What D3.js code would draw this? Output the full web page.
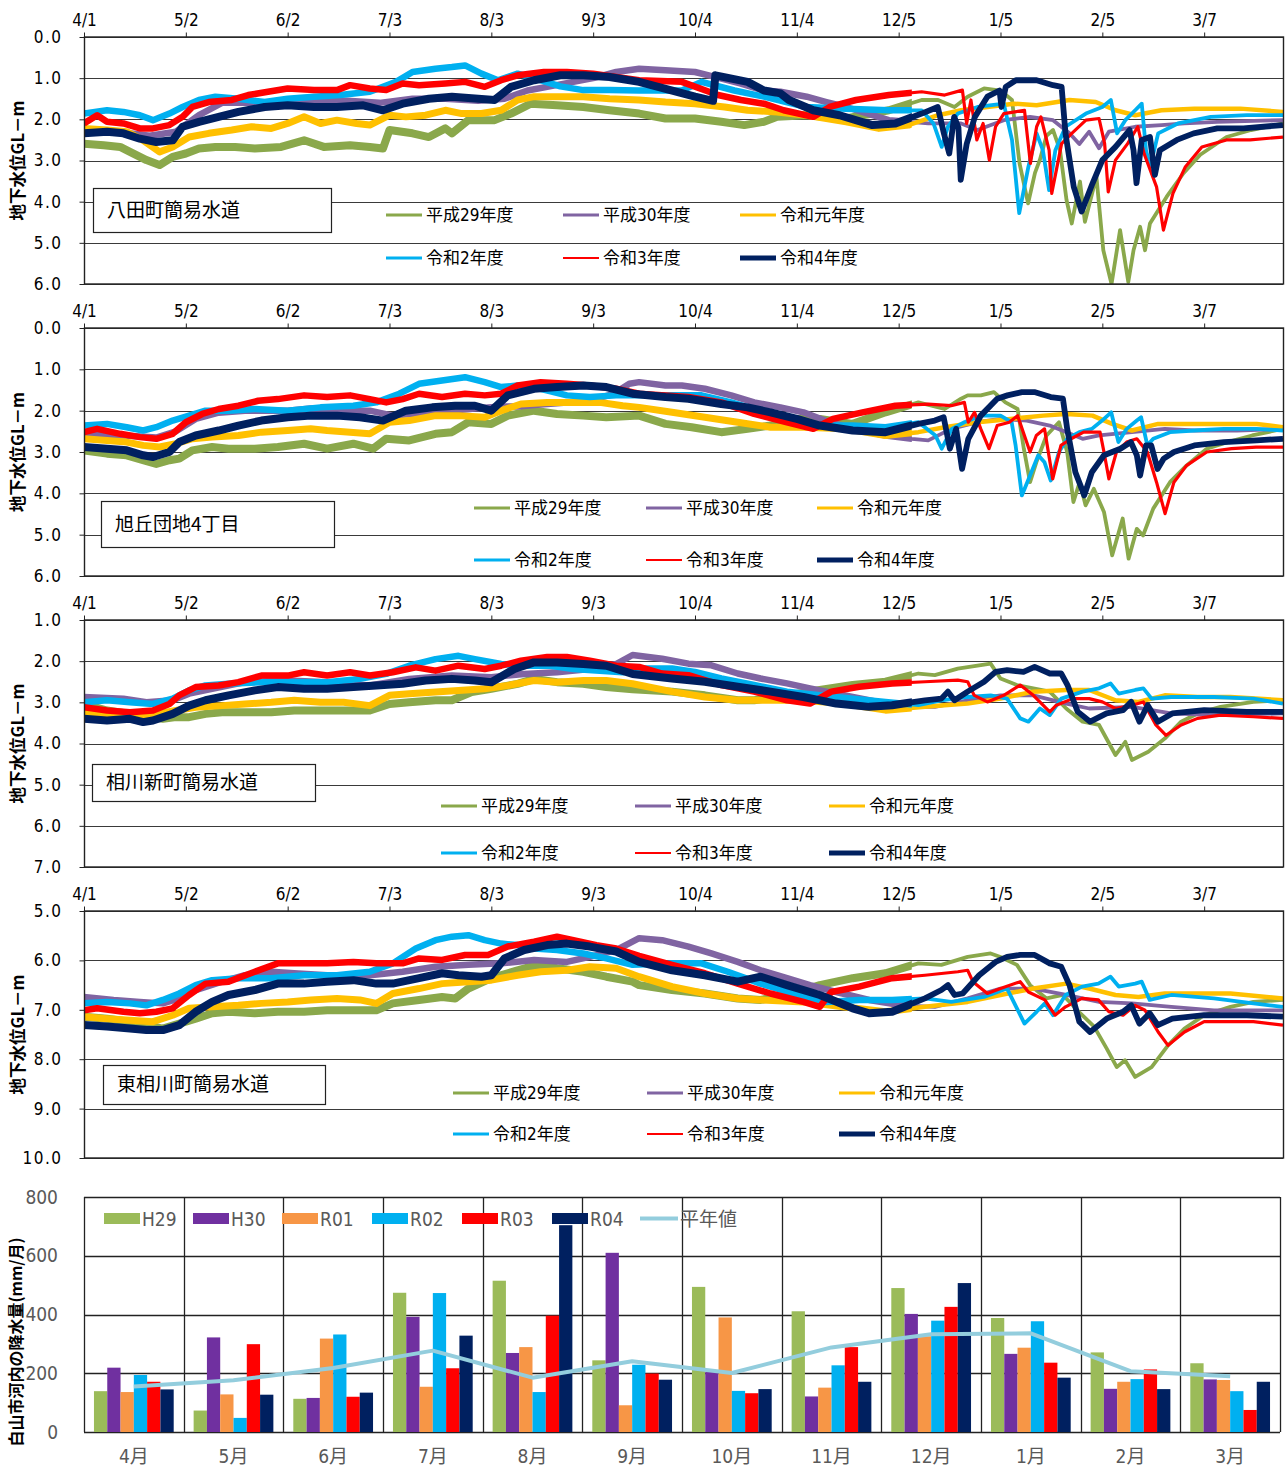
<!DOCTYPE html>
<html>
<head>
<meta charset="utf-8">
<script src="https://cdn.jsdelivr.net/npm/d3@7"></script>
<style>
  body { margin: 0; background: #fff; }
  svg text { font-family: "Liberation Sans Narrow", "DejaVu Sans Condensed", "Noto Sans CJK JP", sans-serif; }
</style>
</head>
<body>
<svg id="chart" width="1285" height="1469"></svg>
<script>
// ---------- groundwater level data: [day since 4/1, depth GL-m] ----------
const dayTicks = [0, 31, 62, 93, 124, 155, 186, 217, 248, 279, 310, 341];
const dayTickLabels = ["4/1", "5/2", "6/2", "7/3", "8/3", "9/3", "10/4", "11/4", "12/5", "1/5", "2/5", "3/7"];
const yearNames = ["平成29年度", "平成30年度", "令和元年度", "令和2年度", "令和3年度", "令和4年度"];

// 八田町簡易水道
const hatta_h29 = [[0,2.59],[6,2.63],[11,2.67],[14,2.79],[19,2.99],[23,3.11],[27,2.91],[31,2.83],[35,2.71],[40,2.67],[46,2.67],[52,2.71],[60,2.67],[67,2.51],[73,2.67],[81,2.63],[87,2.67],[91,2.71],[93,2.26],[100,2.34],[105,2.43],[110,2.22],[112,2.34],[117,2.02],[125,2.02],[130,1.86],[136,1.62],[144,1.66],[152,1.7],[160,1.78],[169,1.86],[177,1.98],[186,1.98],[194,2.06],[201,2.14],[207,2.06],[211,1.94],[220,1.9],[232,1.98],[245,1.78],[255,1.53],[260,1.53],[265,1.7],[269,1.45],[274,1.25],[279,1.3],[282.5,1.53],[284.8,3.07],[287.4,4.04],[289.5,3.3],[291,2.98],[293,2.4],[295,2.26],[297.1,2.74],[299.1,3.96],[300.7,4.53],[303.2,3.51],[304.7,4.49],[308.2,3.39],[310.3,5.18],[312.8,6.0],[315.4,4.69],[317.9,5.95],[319.5,5.18],[321.5,4.61],[323,5.18],[324.5,4.53],[329.6,3.88],[334.7,3.31],[339.8,2.86],[347.8,2.43],[355.3,2.26],[365,2.1]];
const hatta_h30 = [[0,2.25],[10,2.3],[20,2.4],[28,2.3],[35,1.9],[42,1.6],[50,1.6],[60,1.6],[70,1.55],[80,1.55],[90,1.6],[100,1.5],[110,1.5],[120,1.55],[128,1.5],[135,1.3],[145,1.15],[155,1.0],[162,0.85],[169,0.77],[177,0.81],[186,0.85],[192,0.97],[200,1.13],[207,1.3],[212,1.33],[220,1.45],[226,1.58],[232,1.7],[245,2.02],[257,2.1],[267,2.1],[272,2.26],[280,2.02],[288,1.94],[295,2.02],[300,2.34],[303,2.6],[306,2.3],[309,2.7],[312,2.3],[320,2.18],[328,2.14],[335,2.1],[345,2.06],[365,2.02]];
const hatta_r01 = [[0,2.22],[7,2.26],[13,2.3],[18,2.51],[23,2.79],[27,2.67],[32,2.43],[38,2.34],[45,2.26],[51,2.18],[57,2.22],[62,2.1],[67,1.94],[72,2.1],[77,2.02],[83,2.1],[87,2.14],[93,1.9],[98,1.94],[104,1.9],[110,1.78],[115,1.86],[121,1.86],[127,1.78],[132,1.53],[137,1.45],[145,1.45],[152,1.45],[160,1.5],[169,1.53],[177,1.58],[186,1.62],[195,1.7],[202,1.78],[211,1.82],[220,1.9],[232,2.06],[242,2.22],[251,2.14],[260,1.9],[267,1.78],[275,1.7],[283,1.62],[290,1.66],[300,1.53],[308,1.58],[314,1.78],[320,1.9],[328,1.78],[338,1.74],[352,1.74],[365,1.82]];
const hatta_r02 = [[0,1.86],[7,1.78],[12,1.82],[17,1.9],[21,2.02],[26,1.86],[30,1.7],[35,1.53],[40,1.45],[47,1.5],[55,1.58],[62,1.5],[70,1.45],[78,1.41],[87,1.33],[95,1.09],[100,0.85],[107,0.77],[112,0.73],[116,0.69],[121,0.89],[126,1.05],[132,0.89],[137,1.0],[145,1.2],[152,1.29],[160,1.29],[169,1.3],[182,1.3],[188,1.09],[198,1.3],[207,1.45],[220,1.7],[232,1.74],[245,1.78],[255,1.78],[258.6,2.1],[261.1,2.67],[263,2.18],[266,1.86],[272,1.7],[280,1.62],[282.5,2.5],[284.7,4.28],[287.5,3.15],[290,2.34],[291.9,2.75],[293.8,3.72],[295.7,2.75],[298.8,2.18],[305,1.86],[310,1.7],[312.6,1.53],[314.5,2.34],[317,2.02],[320,1.78],[322,1.62],[323.3,2.75],[324.6,3.15],[327,2.34],[333,2.1],[343,1.94],[354,1.9],[365,1.9]];
const hatta_r03 = [[0,2.1],[4,1.9],[7,2.06],[12,2.1],[17,2.22],[21,2.22],[26,2.14],[30,1.94],[33,1.7],[38,1.58],[45,1.53],[50,1.41],[56,1.33],[62,1.25],[70,1.29],[77,1.29],[81,1.17],[87,1.25],[92,1.29],[97,1.13],[102,1.17],[110,1.13],[116,1.09],[122,1.21],[127,1.05],[132,0.93],[140,0.85],[147,0.85],[155,0.89],[162,0.97],[169,1.05],[182,1.09],[193,1.41],[200,1.53],[207,1.62],[213,1.78],[222,1.94],[227,1.7],[235,1.53],[245,1.41],[255,1.33],[262,1.41],[267.4,1.29],[268.7,2.1],[270,1.53],[271.8,2.5],[273.7,2.1],[275.6,2.99],[277.5,2.18],[280,1.86],[286.3,1.78],[288.1,3.07],[290,2.18],[291.3,1.94],[293.8,2.75],[294.6,3.8],[297.6,2.59],[300.7,2.34],[305,2.02],[309,1.98],[310.7,2.59],[311.8,3.76],[314,2.99],[317.7,2.59],[320.8,2.18],[322.7,2.83],[326.5,3.64],[328.6,4.69],[331.5,3.8],[335.3,3.15],[340.3,2.67],[347.8,2.5],[355,2.5],[365,2.43]];
const hatta_r04 = [[0,2.34],[7,2.3],[12,2.34],[17,2.47],[22,2.55],[27,2.51],[30,2.18],[35,2.06],[41,1.94],[47,1.82],[55,1.7],[62,1.66],[70,1.7],[77,1.7],[85,1.66],[91,1.78],[97,1.62],[105,1.5],[112,1.45],[120,1.5],[125,1.53],[130,1.21],[137,1.05],[145,0.93],[152,0.93],[160,0.97],[169,1.09],[186,1.45],[191.5,1.55],[192.2,0.93],[194.5,0.97],[202,1.09],[207,1.3],[212,1.37],[214.6,1.53],[222,1.78],[230,1.9],[240,2.14],[247,2.1],[255,1.86],[259.9,1.7],[261.8,2.35],[263.4,2.83],[264.9,1.94],[266.2,2.2],[266.9,3.47],[268.7,2.6],[271.2,1.94],[275,1.45],[278.7,1.3],[279.3,1.7],[280.6,1.21],[283.7,1.05],[290,1.05],[295,1.17],[297.6,1.21],[298.8,2.35],[301.3,3.64],[303.7,4.24],[307,3.56],[310,2.99],[314,2.67],[318.3,2.26],[319.5,2.75],[320.4,3.55],[322,2.5],[324.5,2.43],[326,3.35],[327.5,2.75],[332.7,2.5],[337.8,2.34],[345,2.22],[353,2.22],[365,2.14]];

// 旭丘団地4丁目
const asahi_h29 = [[0,2.96],[7,3.04],[13,3.08],[18,3.2],[22,3.29],[26,3.2],[29,3.16],[33,2.96],[39,2.88],[44,2.92],[52,2.92],[59,2.88],[67,2.8],[74,2.92],[82,2.8],[88,2.92],[92,2.68],[99,2.72],[107,2.56],[112,2.52],[117,2.28],[124,2.32],[129,2.12],[137,2.0],[144,2.08],[152,2.12],[159,2.16],[169,2.12],[177,2.32],[185,2.4],[194,2.52],[202,2.44],[209,2.36],[217,2.2],[224,2.2],[234,2.32],[244,2.04],[254,1.8],[262,1.96],[267,1.71],[269,1.63],[273,1.63],[277,1.55],[280.5,1.8],[284.2,1.96],[286.1,2.92],[288,3.73],[289.9,3.25],[293,2.6],[296.8,2.28],[299.3,3.0],[301.2,4.21],[303.1,3.73],[304.9,4.29],[307.4,3.89],[310.5,4.45],[313,5.5],[316.2,4.61],[318,5.58],[320.5,4.86],[322.4,5.02],[325.5,4.37],[330.6,3.73],[335.6,3.33],[341.8,2.92],[348.1,2.76],[355.6,2.6],[365,2.44]];
const asahi_h30 = [[0,2.55],[12,2.6],[22,2.65],[28,2.5],[34,2.2],[41,2.05],[49,2.0],[62,2.0],[69,1.95],[77,2.0],[87,2.0],[94,2.12],[104,2.05],[112,2.0],[119,1.95],[127,1.9],[132,1.9],[139,1.85],[147,1.8],[154,1.75],[161,1.6],[166,1.35],[169,1.31],[177,1.39],[182,1.39],[189,1.47],[197,1.63],[204,1.8],[212,1.92],[219,2.04],[227,2.28],[234,2.44],[244,2.6],[252,2.68],[257,2.72],[264,2.44],[272,2.28],[279,2.2],[287,2.24],[294,2.36],[304,2.68],[309,2.6],[319,2.52],[329,2.44],[338,2.48],[351,2.48],[365,2.44]];
const asahi_r01 = [[0,2.68],[7,2.72],[13,2.76],[18,2.84],[23,2.88],[28,2.8],[33,2.68],[39,2.64],[47,2.6],[54,2.52],[62,2.48],[69,2.44],[74,2.48],[81,2.52],[87,2.56],[93,2.28],[99,2.24],[107,2.12],[114,2.12],[122,2.16],[127,2.0],[133,1.84],[141,1.8],[149,1.8],[157,1.8],[164,1.88],[169,1.92],[179,2.04],[189,2.16],[199,2.28],[209,2.4],[219,2.4],[232,2.44],[244,2.6],[254,2.52],[262,2.4],[272,2.28],[282,2.2],[292,2.12],[299,2.08],[307,2.12],[313,2.32],[319,2.48],[327,2.32],[336,2.32],[347,2.32],[357,2.32],[365,2.4]];
const asahi_r02 = [[0,2.36],[7,2.32],[13,2.4],[18,2.48],[22,2.4],[27,2.24],[32,2.12],[37,2.0],[44,2.0],[52,1.96],[62,2.0],[72,1.92],[82,1.88],[89,1.8],[96,1.59],[102,1.35],[109,1.27],[116,1.19],[122,1.31],[127,1.43],[132,1.39],[139,1.47],[147,1.63],[154,1.67],[162,1.63],[169,1.63],[179,1.63],[188,1.63],[197,1.8],[204,1.96],[214,2.2],[224,2.36],[234,2.36],[244,2.4],[254,2.28],[259.2,2.6],[261.1,2.92],[264.2,2.44],[268,2.28],[273,2.12],[279,2.12],[282.4,2.28],[283.6,2.84],[285.5,4.05],[288,3.57],[290.5,3.08],[292.4,3.25],[294.3,3.69],[296.8,3.0],[299.3,2.68],[303,2.52],[306.8,2.44],[310.5,2.2],[312.7,2.04],[314.9,2.76],[317.4,2.44],[320.5,2.24],[321.8,2.16],[323.7,2.84],[325.5,2.68],[330.6,2.52],[338,2.48],[347,2.44],[357,2.44],[365,2.48]];
const asahi_r03 = [[0,2.52],[4,2.44],[11,2.56],[17,2.64],[22,2.68],[27,2.56],[31,2.28],[36,2.08],[41,1.96],[47,1.88],[53,1.76],[59,1.72],[67,1.63],[74,1.67],[81,1.63],[87,1.72],[92,1.8],[97,1.72],[102,1.59],[109,1.67],[116,1.59],[122,1.63],[127,1.59],[132,1.39],[139,1.31],[147,1.35],[154,1.39],[162,1.47],[169,1.59],[177,1.63],[184,1.67],[194,1.8],[204,2.08],[214,2.28],[222,2.44],[228,2.2],[237,2.04],[247,1.88],[257,1.84],[264,1.88],[268,1.8],[269.2,2.28],[271.1,2.04],[273,2.44],[275.5,2.92],[278,2.36],[281.7,2.28],[284.2,2.12],[288,3.0],[289.9,2.6],[292.4,2.44],[294.9,3.65],[297.4,2.84],[300.5,2.68],[304.3,2.52],[309.3,2.52],[310.5,3.0],[312,3.65],[314.3,3.0],[317.4,2.76],[320.5,2.68],[323.7,3.0],[326.5,3.73],[329.1,4.49],[331.8,3.73],[335.6,3.33],[341.8,3.0],[349.3,2.92],[356.8,2.88],[365,2.88]];
const asahi_r04 = [[0,2.88],[7,2.92],[13,2.96],[18,3.08],[21,3.12],[26,3.0],[29,2.76],[34,2.6],[41,2.48],[47,2.36],[54,2.24],[62,2.16],[69,2.12],[77,2.12],[84,2.16],[91,2.24],[98,2.0],[106,1.92],[113,1.88],[119,1.88],[124,2.0],[129,1.63],[137,1.47],[144,1.43],[152,1.39],[159,1.43],[167,1.59],[177,1.67],[184,1.71],[194,1.84],[202,1.92],[209,2.04],[217,2.2],[224,2.36],[234,2.48],[244,2.52],[254,2.32],[259,2.24],[261.7,2.16],[263.6,2.92],[265.5,2.44],[267.3,3.41],[269.2,2.68],[273,2.12],[278,1.71],[281.1,1.63],[285.5,1.55],[289.3,1.55],[294.3,1.67],[298,1.71],[299.3,2.44],[301.8,3.49],[304.5,4.05],[306.8,3.49],[310.5,3.08],[315.5,2.92],[318.7,2.76],[320.5,3.08],[321.5,3.57],[323.3,2.84],[324.9,2.84],[326.8,3.41],[328.7,3.16],[331.8,3.0],[338,2.84],[347,2.76],[357,2.72],[365,2.68]];

// 相川新町簡易水道
const aikawa_h29 = [[0,3.04],[7,3.2],[14,3.28],[21,3.36],[24,3.4],[28,3.36],[32,3.36],[37,3.28],[42,3.24],[49,3.24],[57,3.24],[64,3.2],[72,3.2],[79,3.2],[87,3.2],[93,3.04],[99,3.0],[107,2.95],[112,2.95],[118,2.75],[124,2.67],[132,2.55],[137,2.43],[144,2.51],[152,2.55],[159,2.63],[167,2.68],[179,2.74],[189,2.83],[199,2.95],[204,2.95],[214,2.83],[224,2.7],[234,2.58],[244,2.5],[254,2.3],[259,2.34],[266,2.18],[276,2.06],[279,2.42],[284,2.58],[289,2.66],[294,2.74],[299,3.15],[304,3.47],[309,3.55],[314,4.28],[317,3.96],[319,4.4],[324,4.2],[329,3.88],[334,3.47],[339,3.27],[346,3.11],[356,2.99],[365,2.95]];
const aikawa_h30 = [[0,2.87],[12,2.91],[19,3.0],[27,2.95],[32,2.79],[39,2.67],[49,2.51],[62,2.47],[74,2.51],[87,2.59],[99,2.43],[112,2.35],[124,2.39],[134,2.31],[144,2.27],[154,2.19],[162,2.07],[167,1.85],[176,1.94],[184,2.06],[191,2.1],[199,2.3],[206,2.42],[214,2.54],[221,2.66],[229,2.79],[239,2.95],[249,3.11],[259,3.11],[269,2.95],[279,2.83],[289,2.83],[299,3.03],[306,3.15],[319,3.11],[331,3.27],[344,3.31],[365,3.27]];
const aikawa_r01 = [[0,3.24],[7,3.28],[16,3.32],[22,3.28],[28,3.2],[34,3.12],[42,3.08],[49,3.04],[57,3.0],[64,2.95],[72,3.0],[79,3.0],[87,3.08],[93,2.83],[99,2.79],[107,2.75],[114,2.71],[122,2.67],[129,2.59],[137,2.47],[144,2.51],[152,2.47],[159,2.47],[167,2.55],[179,2.74],[189,2.87],[199,2.95],[206,2.95],[219,2.95],[231,3.03],[244,3.19],[256,3.11],[269,3.03],[279,2.91],[289,2.74],[299,2.7],[306,2.7],[314,2.95],[321,2.99],[329,2.83],[339,2.87],[349,2.87],[365,2.95]];
const aikawa_r02 = [[0,3.0],[7,2.95],[14,3.0],[21,3.04],[27,2.91],[32,2.71],[37,2.59],[44,2.55],[54,2.51],[64,2.51],[74,2.51],[84,2.43],[92,2.31],[99,2.11],[107,1.95],[114,1.87],[119,1.95],[127,2.07],[134,2.11],[142,2.11],[149,2.19],[157,2.23],[164,2.27],[169,2.18],[179,2.18],[186,2.26],[194,2.42],[204,2.58],[214,2.74],[224,2.83],[234,2.91],[244,2.99],[254,3.07],[261,2.95],[269,2.87],[276,2.83],[281,2.91],[285,3.39],[287.5,3.47],[291,3.15],[294,3.31],[297.5,2.91],[304,2.74],[309,2.66],[312.5,2.54],[315,2.79],[320,2.7],[322.5,2.66],[325,2.91],[331,2.87],[344,2.87],[356,2.91],[365,3.03]];
const aikawa_r03 = [[0,3.12],[7,3.2],[14,3.24],[21,3.2],[26,3.04],[29,2.83],[34,2.63],[41,2.59],[47,2.51],[54,2.35],[62,2.35],[67,2.27],[74,2.35],[81,2.27],[87,2.35],[94,2.27],[101,2.15],[107,2.23],[114,2.11],[122,2.19],[127,2.11],[133,1.99],[141,1.9],[147,1.9],[154,1.99],[162,2.11],[169,2.14],[176,2.3],[184,2.34],[194,2.58],[204,2.74],[214,2.95],[221,3.03],[227.5,2.74],[236,2.62],[246,2.54],[256,2.5],[266,2.46],[269,2.5],[271,2.83],[275,2.99],[280,2.83],[285,2.58],[289,2.83],[294,3.23],[296,3.07],[301,2.91],[306,2.91],[310,2.99],[314,3.15],[319,3.07],[322.5,2.99],[326.3,3.55],[329.4,3.8],[334,3.55],[339,3.39],[346,3.31],[356,3.35],[365,3.39]];
const aikawa_r04 = [[0,3.4],[7,3.44],[14,3.4],[18,3.48],[21,3.44],[27,3.28],[32,3.08],[37,2.95],[44,2.83],[52,2.71],[59,2.63],[67,2.67],[74,2.67],[82,2.63],[89,2.59],[97,2.55],[104,2.47],[112,2.43],[119,2.47],[124,2.51],[131,2.19],[137,2.03],[144,2.03],[152,2.07],[159,2.11],[167,2.31],[179,2.42],[189,2.5],[199,2.62],[209,2.74],[219,2.87],[229,3.03],[239,3.11],[246,3.07],[256,2.95],[261,2.91],[263,2.74],[265,2.95],[269,2.74],[274,2.5],[277.5,2.26],[281,2.22],[286,2.26],[289.4,2.14],[294,2.3],[297.5,2.3],[299.4,2.58],[302.5,3.23],[306.3,3.47],[311.3,3.27],[316.3,3.19],[318.8,2.99],[321.3,3.47],[323.8,3.07],[326.9,3.47],[331.3,3.27],[341,3.19],[354,3.23],[365,3.23]];

// 東相川町簡易水道
const higashi_h29 = [[0,7.14],[7,7.18],[14,7.24],[21,7.34],[24,7.38],[29,7.28],[34,7.18],[39,7.07],[44,7.04],[52,7.07],[59,7.04],[67,7.04],[74,7.01],[82,7.01],[89,7.01],[94,6.87],[102,6.8],[109,6.74],[113,6.77],[117,6.57],[124,6.36],[132,6.2],[138,6.09],[144,6.16],[152,6.23],[159,6.33],[167,6.43],[169,6.5],[179,6.6],[189,6.67],[199,6.77],[206,6.8],[214,6.7],[224,6.5],[234,6.36],[244,6.26],[254,6.06],[261,6.09],[269,5.93],[276,5.86],[279,5.93],[284,6.09],[288,6.5],[293,6.77],[298,6.7],[303,7.05],[307.5,7.34],[311.3,7.78],[314.4,8.16],[316.9,8.02],[320,8.36],[325,8.16],[330,7.72],[335,7.38],[341,7.11],[349,6.94],[356,6.84],[365,6.8]];
const higashi_h30 = [[0,6.74],[9,6.8],[17,6.84],[24,6.87],[29,6.77],[34,6.6],[42,6.43],[49,6.3],[57,6.23],[64,6.26],[74,6.3],[87,6.3],[97,6.23],[107,6.13],[117,6.09],[127,6.06],[137,5.99],[147,6.03],[154,5.93],[162,5.79],[169,5.55],[176,5.59],[184,5.72],[191,5.86],[199,6.03],[206,6.2],[214,6.36],[221,6.5],[229,6.64],[239,6.8],[249,6.91],[259,6.94],[269,6.77],[279,6.57],[289,6.57],[299,6.7],[309,6.84],[319,6.87],[331,6.94],[344,7.01],[356,7.01],[365,7.01]];
const higashi_r01 = [[0,7.14],[7,7.18],[14,7.21],[21,7.24],[27,7.11],[32,6.97],[39,6.94],[47,6.91],[54,6.87],[62,6.84],[69,6.8],[77,6.77],[84,6.8],[89,6.87],[94,6.67],[102,6.57],[109,6.47],[117,6.43],[124,6.4],[132,6.3],[139,6.23],[147,6.2],[154,6.13],[162,6.16],[169,6.33],[179,6.53],[189,6.67],[199,6.77],[206,6.8],[219,6.84],[231,6.94],[244,7.04],[256,6.94],[269,6.84],[279,6.7],[289,6.57],[299,6.47],[306,6.57],[314,6.7],[321,6.74],[329,6.67],[339,6.67],[349,6.67],[365,6.77]];
const higashi_r02 = [[0,6.87],[7,6.84],[14,6.87],[19,6.91],[24,6.8],[29,6.67],[34,6.5],[39,6.4],[47,6.36],[57,6.36],[67,6.3],[77,6.3],[87,6.23],[94,6.06],[101,5.76],[107,5.59],[112,5.52],[117,5.49],[122,5.59],[127,5.66],[132,5.69],[137,5.76],[144,5.79],[152,5.86],[159,5.96],[167,6.09],[179,6.06],[188,6.06],[196,6.23],[206,6.47],[216,6.67],[226,6.84],[236,6.8],[246,6.8],[256,6.77],[264,6.84],[274,6.74],[281,6.57],[284,6.97],[286.3,7.28],[290,7.04],[292.5,6.87],[295,7.11],[298.8,6.7],[303.8,6.53],[308.8,6.47],[312.5,6.33],[315,6.53],[320,6.47],[322,6.43],[324.4,6.8],[331,6.7],[344,6.77],[356,6.87],[365,6.94]];
const higashi_r03 = [[0,7.01],[4,6.97],[12,7.04],[17,7.07],[22,7.04],[27,6.97],[32,6.7],[37,6.47],[44,6.43],[52,6.23],[59,6.06],[67,6.06],[74,6.06],[82,6.03],[89,6.06],[97,6.06],[102,5.96],[109,5.99],[116,5.89],[123,5.89],[129,5.72],[137,5.62],[144,5.52],[149,5.59],[156,5.69],[162,5.76],[169,5.91],[179,6.09],[189,6.26],[199,6.47],[209,6.67],[219,6.84],[224,6.94],[227.5,6.64],[236,6.53],[246,6.36],[256,6.3],[266,6.23],[269,6.2],[270.6,6.43],[275,6.67],[279,6.57],[285,6.43],[287.5,6.64],[292.5,6.8],[295.6,7.11],[298.8,6.94],[303.8,6.77],[308.8,6.8],[312,7.04],[316.3,7.11],[320,6.91],[323,7.01],[327,7.45],[330,7.72],[335,7.45],[341,7.24],[349,7.24],[356,7.24],[365,7.31]];
const higashi_r04 = [[0,7.31],[7,7.34],[14,7.38],[19,7.41],[24,7.41],[29,7.31],[34,7.04],[39,6.84],[44,6.7],[52,6.6],[59,6.47],[67,6.47],[74,6.43],[82,6.4],[89,6.47],[94,6.47],[102,6.36],[109,6.26],[114,6.3],[121,6.33],[124,6.3],[128,5.96],[134,5.79],[141,5.69],[147,5.66],[154,5.72],[162,5.82],[169,6.03],[179,6.2],[189,6.3],[199,6.43],[206,6.33],[214,6.5],[224,6.7],[234,6.97],[239,7.07],[246,7.04],[256,6.77],[261,6.6],[263,6.5],[265,6.7],[267.5,6.67],[272.5,6.3],[277.5,6.03],[281,5.93],[285,5.89],[289.4,5.89],[294,6.06],[297.5,6.13],[300,6.5],[303,7.24],[306.3,7.45],[311.3,7.18],[316.3,7.04],[318.8,6.91],[321.3,7.28],[324.4,7.07],[326.9,7.31],[331.3,7.18],[341,7.11],[354,7.11],[365,7.14]];

// ---------- monthly precipitation (mm/month) ----------
const months = ["4月", "5月", "6月", "7月", "8月", "9月", "10月", "11月", "12月", "1月", "2月", "3月"];
const rainYears = ["H29", "H30", "R01", "R02", "R03", "R04"];
const rain_h29 = [139, 73, 113, 474, 515, 244, 494, 411, 490, 388, 271, 234];
const rain_h30 = [219, 322, 116, 392, 269, 610, 204, 121, 402, 266, 147, 179];
const rain_r01 = [136, 128, 318, 154, 289, 91, 390, 151, 326, 287, 171, 177];
const rain_r02 = [194, 48, 332, 473, 136, 229, 140, 227, 379, 377, 180, 139];
const rain_r03 = [171, 299, 120, 217, 396, 199, 132, 289, 426, 236, 213, 75];
const rain_r04 = [145, 127, 134, 328, 704, 178, 146, 171, 507, 185, 146, 171];
const rain_normal = [155, 176, 218, 277, 185, 241, 201, 288, 333, 336, 207, 190];
const rainTicks = [0, 200, 400, 600, 800];

// ---------- styling ----------
const yearColors = ["#8aa84b", "#8064a2", "#ffc000", "#00b0f0", "#ff0000", "#002060"];
// growing season records carry a wide daily swing; winter records are thinner
const summerWidths = [8, 6.5, 7, 6.5, 6.5, 8];
const winterWidths = [3.8, 3.8, 4.5, 3.8, 3.2, 5.8];
const seasonSplitDay = 252;
const legendWidths = [3, 3, 3, 3, 2, 5];
const barColors = ["#9bbb59", "#7030a0", "#f79646", "#00b0f0", "#ff0000", "#002060"];
const normalColor = "#93cddd";

const stations = [
  { name: "八田町簡易水道", range: [0, 6], series: [hatta_h29, hatta_h30, hatta_r01, hatta_r02, hatta_r03, hatta_r04] },
  { name: "旭丘団地4丁目", range: [0, 6], series: [asahi_h29, asahi_h30, asahi_r01, asahi_r02, asahi_r03, asahi_r04] },
  { name: "相川新町簡易水道", range: [1, 7], series: [aikawa_h29, aikawa_h30, aikawa_r01, aikawa_r02, aikawa_r03, aikawa_r04] },
  { name: "東相川町簡易水道", range: [5, 10], series: [higashi_h29, higashi_h30, higashi_r01, higashi_r02, higashi_r03, higashi_r04] }
];

const panelLayout = [
  { top: 37,  bottom: 284,  box: [93, 188, 238, 44],  rows: [215, 258],   cols: [386, 563, 740] },
  { top: 328, bottom: 576,  box: [101, 501, 233, 46], rows: [508, 560],   cols: [474, 646, 817] },
  { top: 620, bottom: 867,  box: [92, 764, 223, 37],  rows: [806, 853],   cols: [441, 635, 829] },
  { top: 911, bottom: 1158, box: [103, 1065, 222, 39], rows: [1093, 1134], cols: [453, 647, 839] }
];

const svg = d3.select("#chart");
const plotLeft = 84, plotRight = 1283;
const x = d3.scaleLinear().domain([0, 365]).range([plotLeft, plotRight]);
const crisp = v => Math.round(v) + 0.5;
const narrowFont = "'Liberation Sans Narrow','DejaVu Sans Condensed','Noto Sans CJK JP',sans-serif";

stations.forEach((st, pi) => {
  const lay = panelLayout[pi];
  const g = svg.append("g");
  const y = d3.scaleLinear().domain(st.range).range([lay.top, lay.bottom]);
  const ticks = d3.range(st.range[0], st.range[1] + 0.01, 1);

  // horizontal gridlines
  g.append("g").selectAll("line").data(ticks).join("line")
    .attr("x1", plotLeft).attr("x2", plotRight)
    .attr("y1", d => crisp(y(d))).attr("y2", d => crisp(y(d)))
    .attr("stroke", "#3a3a3a").attr("stroke-width", 1.2);

  // clip regions: whole plot area, and the growing-season part of it
  const clipAll = "clipAll" + pi, clipSummer = "clipSummer" + pi;
  g.append("clipPath").attr("id", clipAll).append("rect")
    .attr("x", plotLeft).attr("y", lay.top).attr("width", plotRight - plotLeft).attr("height", lay.bottom - lay.top);
  g.append("clipPath").attr("id", clipSummer).append("rect")
    .attr("x", plotLeft).attr("y", lay.top).attr("width", x(seasonSplitDay) - plotLeft).attr("height", lay.bottom - lay.top);

  const line = d3.line().x(d => x(d[0])).y(d => y(d[1]));
  const lines = g.append("g").attr("clip-path", `url(#${clipAll})`);
  st.series.forEach((s, i) => {
    lines.append("path").datum(s)
      .attr("d", line)
      .attr("fill", "none")
      .attr("stroke", yearColors[i])
      .attr("stroke-width", winterWidths[i])
      .attr("stroke-linejoin", "round");
    lines.append("path").datum(s)
      .attr("d", line)
      .attr("clip-path", `url(#${clipSummer})`)
      .attr("fill", "none")
      .attr("stroke", yearColors[i])
      .attr("stroke-width", summerWidths[i])
      .attr("stroke-linejoin", "round");
  });

  // frame
  g.append("rect")
    .attr("x", plotLeft + 0.5).attr("y", crisp(lay.top) - 0.5)
    .attr("width", plotRight - plotLeft).attr("height", Math.round(lay.bottom - lay.top))
    .attr("fill", "none").attr("stroke", "#222").attr("stroke-width", 1.4);

  // date axis along the top
  const xAxis = g.append("g").attr("transform", `translate(0,${crisp(lay.top)})`)
    .call(d3.axisTop(x).tickValues(dayTicks).tickFormat((d, i) => dayTickLabels[i]).tickSize(5).tickPadding(7));
  xAxis.select(".domain").remove();
  xAxis.selectAll("line").attr("stroke", "#222");
  xAxis.selectAll("text").attr("font-size", 17).attr("fill", "#000").style("font-family", narrowFont);

  // depth axis
  const yAxis = g.append("g").attr("transform", `translate(${plotLeft + 0.5},0)`)
    .call(d3.axisLeft(y).tickValues(ticks).tickFormat(d3.format(".1f")).tickSize(5).tickPadding(17));
  yAxis.select(".domain").remove();
  yAxis.selectAll("line").attr("stroke", "#222");
  yAxis.selectAll("text").attr("font-size", 17).attr("fill", "#000").attr("letter-spacing", 1.5)
    .style("font-family", narrowFont);

  // axis title
  g.append("text")
    .attr("transform", `translate(24,${(lay.top + lay.bottom) / 2}) rotate(-90)`)
    .attr("text-anchor", "middle").attr("font-size", 16.5).attr("font-weight", "bold")
    .style("font-family", "'Noto Sans CJK JP',sans-serif")
    .text("地下水位GL－m");

  // station label box
  const [bx, by, bw, bh] = lay.box;
  g.append("rect").attr("x", bx + 0.5).attr("y", by + 0.5).attr("width", bw).attr("height", bh)
    .attr("fill", "#fff").attr("stroke", "#222").attr("stroke-width", 1.2);
  g.append("text").attr("x", bx + 14).attr("y", by + bh / 2).attr("dy", "0.36em")
    .attr("font-size", 19).style("font-family", "'Noto Sans CJK JP',sans-serif")
    .text(st.name);

  // legend
  yearNames.forEach((nm, i) => {
    const lx = lay.cols[i % 3], ly = lay.rows[Math.floor(i / 3)];
    g.append("line").attr("x1", lx).attr("x2", lx + 36).attr("y1", ly).attr("y2", ly)
      .attr("stroke", yearColors[i]).attr("stroke-width", legendWidths[i]);
    g.append("text").attr("x", lx + 40).attr("y", ly).attr("dy", "0.36em")
      .attr("font-size", 17).text(nm);
  });
});

// ---------- precipitation bar chart ----------
const bLeft = 84, bRight = 1280, bTop = 1197, bBottom = 1432;
const rainSeries = [rain_h29, rain_h30, rain_r01, rain_r02, rain_r03, rain_r04];
const xm = d3.scaleBand().domain(months).range([bLeft, bRight]).padding(0);
const xs = d3.scaleBand().domain(rainYears).range([0, xm.bandwidth()]).paddingInner(0).paddingOuter(0.75);
const yr = d3.scaleLinear().domain([0, 800]).range([bBottom, bTop]);
const gb = svg.append("g");

gb.append("g").selectAll("line").data(rainTicks).join("line")
  .attr("x1", bLeft).attr("x2", bRight)
  .attr("y1", d => crisp(yr(d))).attr("y2", d => crisp(yr(d)))
  .attr("stroke", "#222").attr("stroke-width", 1.3);
gb.append("g").selectAll("line").data(d3.range(months.length + 1)).join("line")
  .attr("x1", i => crisp(bLeft + i * xm.step())).attr("x2", i => crisp(bLeft + i * xm.step()))
  .attr("y1", bTop).attr("y2", bBottom)
  .attr("stroke", "#222").attr("stroke-width", 1.3);

rainSeries.forEach((vals, si) => {
  gb.append("g").selectAll("rect").data(vals).join("rect")
    .attr("x", (v, mi) => xm(months[mi]) + xs(rainYears[si]))
    .attr("width", xs.bandwidth())
    .attr("y", v => yr(v))
    .attr("height", v => yr(0) - yr(v))
    .attr("fill", barColors[si]);
});

gb.append("path").datum(rain_normal)
  .attr("d", d3.line().x((v, i) => xm(months[i]) + xm.bandwidth() / 2).y(v => yr(v)))
  .attr("fill", "none").attr("stroke", normalColor).attr("stroke-width", 4).attr("stroke-linejoin", "round");

// axis labels
const yb = gb.append("g").attr("transform", `translate(${bLeft},0)`)
  .call(d3.axisLeft(yr).tickValues(rainTicks).tickSize(0).tickPadding(26));
yb.select(".domain").remove();
yb.selectAll("text").attr("font-size", 19).attr("fill", "#595959").style("font-family", narrowFont);

gb.append("g").selectAll("text").data(months).join("text")
  .attr("x", m => xm(m) + xm.bandwidth() / 2).attr("y", 1463)
  .attr("text-anchor", "middle").attr("font-size", 19).attr("fill", "#595959")
  .text(m => m);

gb.append("text")
  .attr("transform", `translate(22,1342) rotate(-90)`)
  .attr("text-anchor", "middle").attr("font-size", 16).attr("font-weight", "bold")
  .style("font-family", "'Noto Sans CJK JP',sans-serif")
  .text("白山市河内の降水量(mm/月)");

// legend
const legendX = [104, 193, 282, 372, 462, 552, 640];
rainYears.forEach((nm, i) => {
  gb.append("rect").attr("x", legendX[i]).attr("y", 1213).attr("width", 36).attr("height", 11).attr("fill", barColors[i]);
  gb.append("text").attr("x", legendX[i] + 38).attr("y", 1219).attr("dy", "0.36em")
    .attr("font-size", 19).attr("fill", "#595959").text(nm);
});
gb.append("line").attr("x1", legendX[6]).attr("x2", legendX[6] + 38).attr("y1", 1218.5).attr("y2", 1218.5)
  .attr("stroke", normalColor).attr("stroke-width", 4);
gb.append("text").attr("x", legendX[6] + 40).attr("y", 1219).attr("dy", "0.36em")
  .attr("font-size", 19).attr("fill", "#595959").text("平年値");
</script>
</body>
</html>
